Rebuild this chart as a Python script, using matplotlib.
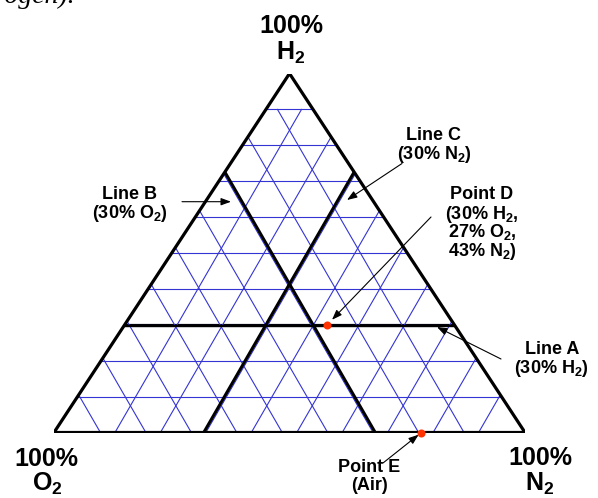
import numpy as np
import matplotlib
matplotlib.use("Agg")
import matplotlib.pyplot as plt
from matplotlib.patches import Polygon

plt.rcParams["font.family"] = ["Liberation Sans", "DejaVu Sans"]
plt.rcParams["mathtext.default"] = "regular"

# -------- data (percent) --------
GRID_H2 = [10, 20, 30, 40, 50, 60, 70, 80, 90]   # horizontal grid lines
DIAG_START = 12.95   # where the first rising grid diagonal meets the base (% of base)
DIAG_STEP = 9.65     # spacing of the grid diagonals along the base (% of base)
N_DIAG = 9

LINE_A_H2 = 30
LINE_B = (30, 30, 40)   # (H2, O2, N2) where line B crosses line A
LINE_C = (30, 40, 30)   # (H2, O2, N2) where line C crosses line A
POINT_D = (30, 27, 43)
POINT_E = (0, 22, 78)
# --------------------------------

W, H = 598, 498
TRI_W, TRI_H = 471, 359          # triangle size in pixels
SLOPE = np.tan(np.radians(60)) * TRI_W / TRI_H   # 60 deg on screen, in data units


def tern(h2, o2, n2):
    t = float(h2 + o2 + n2)
    return (n2 + h2 / 2.0) / t, h2 / t


def fpos(x, y):
    # pixel position measured from top-left -> figure fraction
    return x / W, 1 - y / H


fig = plt.figure(figsize=(W / 100, H / 100), dpi=100)
ax = fig.add_axes([54 / W, (H - 432.5) / H, TRI_W / W, TRI_H / H])
ax.set_xlim(0, 1)
ax.set_ylim(0, 1)
ax.axis("off")

corners = [tern(0, 100, 0), tern(0, 0, 100), tern(100, 0, 0)]
tri = Polygon(corners, closed=True, fill=False, ec="black", lw=2.3,
              joinstyle="miter", zorder=6)
ax.add_patch(tri)

blue = "#3434d4"
top = max(GRID_H2) / 100.0

# horizontal grid
for h in GRID_H2:
    ln, = ax.plot([0, 1], [h / 100.0, h / 100.0], color=blue, lw=0.8, zorder=2)
    ln.set_clip_path(tri)

# diagonal grid (rising and falling families)
ys = np.array([0.0, top])
for i in range(N_DIAG):
    b = (DIAG_START + i * DIAG_STEP) / 100.0
    for xs in (b + ys / SLOPE, (1 - b) - ys / SLOPE):
        ln, = ax.plot(xs, ys, color=blue, lw=0.8, zorder=2)
        ln.set_clip_path(tri)

# line A (constant H2), drawn just under its blue grid line
ya = LINE_A_H2 / 100.0
ln, = ax.plot([0, 1], [ya, ya], color="black", lw=2.3, zorder=1.5)
ln.set_clip_path(tri)
ln, = ax.plot([0, 1], [ya, ya], color="black", lw=1.6, zorder=4,
              transform=ax.transData + matplotlib.transforms.ScaledTranslation(
                  0, -1.2 / 72, fig.dpi_scale_trans))
ln.set_clip_path(tri)

# lines B and C
yy = np.array([0.0, 1.0])
xb, yb = tern(*LINE_B)
ln, = ax.plot(xb - (yy - yb) / SLOPE, yy, color="black", lw=2.2, zorder=4)
ln.set_clip_path(tri)
xc, yc = tern(*LINE_C)
ln, = ax.plot(xc + (yy - yc) / SLOPE, yy, color="black", lw=2.2, zorder=4)
ln.set_clip_path(tri)

# points D and E
for p in (POINT_D, POINT_E):
    px, py = tern(*p)
    ax.plot(px, py, "o", color="#ff3300", ms=5.8, mec="none", zorder=8,
            clip_on=False)

# corner labels
big = dict(fontsize=18, fontweight="bold", ha="center", va="baseline")
for txt, x, y in [("100%", 291, 32.7), ("H$_2$", 291, 59.3),
                  ("100%", 46, 466), ("O$_2$", 47, 491),
                  ("100%", 540, 465), ("N$_2$", 540, 491)]:
    fig.text(*fpos(x, y), txt, **big)

# annotation labels
small = dict(fontsize=13, fontweight="bold", ha="center", va="baseline")
labels = [
    ("Line B", 129, 199.3),
    (f"({LINE_B[1]}% O$_2$)", 129.5, 217.5),
    ("Line C", 433.5, 140),
    (f"({LINE_C[2]}% N$_2$)", 434, 159),
    ("Point D", 482, 199.3),
    (f"({POINT_D[0]}% H$_2$,", 482, 218.5),
    (f"{POINT_D[1]}% O$_2$,", 482, 237.5),
    (f"{POINT_D[2]}% N$_2$)", 482, 256.5),
    ("Line A", 552, 354),
    (f"({LINE_A_H2}% H$_2$)", 551.5, 373),
    ("Point E", 369.5, 471.5),
    ("(Air)", 369, 490),
]
for txt, x, y in labels:
    fig.text(*fpos(x, y), txt, **small)

# leftover text from the page above
fig.text(*fpos(75, 3), "(nitrogen).", fontsize=20, fontstyle="italic",
         family="Liberation Serif", ha="right", va="baseline")

# arrows
arrow = dict(arrowstyle="-|>,head_length=0.6,head_width=0.22", color="black",
             lw=0.8, mutation_scale=10, shrinkA=0, shrinkB=0)


def pix(x, y):
    return x, H - y


for tail, tip in [((182, 201.7), (231, 201.7)),
                  ((402, 163.5), (347, 200)),
                  ((501, 359), (437, 327))]:
    ax.annotate("", xy=pix(*tip), xytext=pix(*tail), xycoords="figure pixels",
                textcoords="figure pixels", arrowprops=arrow, zorder=9)

for tail, p, sh in [((431, 217), POINT_D, 5), ((383, 463), POINT_E, 2.5)]:
    ax.annotate("", xy=tern(*p), xytext=pix(*tail), xycoords="data",
                textcoords="figure pixels",
                arrowprops=dict(arrow, shrinkB=sh), zorder=9)

fig.savefig("out.png", dpi=100)
